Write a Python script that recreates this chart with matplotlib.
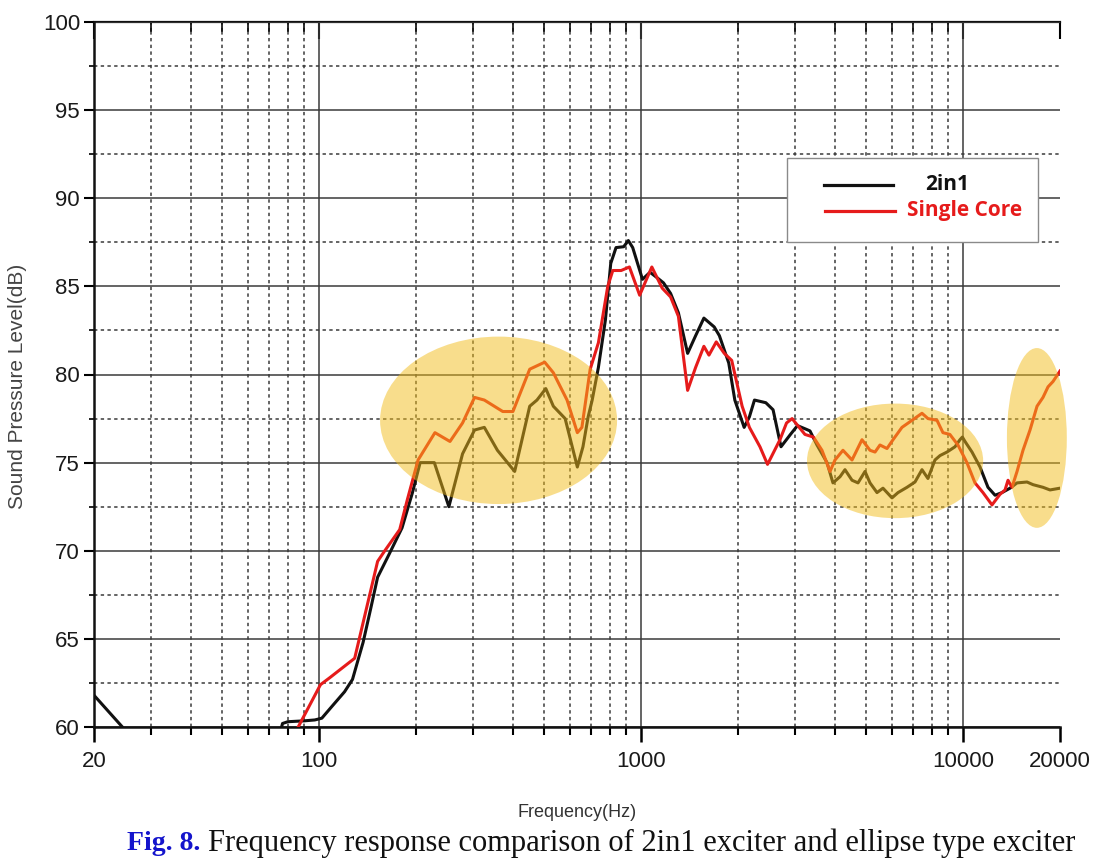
import numpy as np
import matplotlib
matplotlib.use("Agg")
import matplotlib.pyplot as plt
from matplotlib.patches import Ellipse, Rectangle
from matplotlib.lines import Line2D

# ---------------- data ----------------
freq_2in1 = [20, 24.5, 25.5, 75, 77, 80, 90, 97, 102, 110, 120, 127, 137, 145, 152, 165, 181, 195,
             206, 228, 253, 279, 304, 326, 358, 405, 451, 475, 506, 534, 581, 634, 660, 685, 705,
             737, 775, 805, 836, 883, 913, 942, 1010, 1066, 1120, 1174, 1235, 1306, 1395, 1477,
             1567, 1687, 1751, 1872, 1955, 2090, 2170, 2250, 2440, 2570, 2720, 2910, 3060, 3250,
             3346, 3518, 3780, 3944, 4148, 4298, 4520, 4718, 4960, 5140, 5404, 5640, 6016, 6280,
             6697, 7090, 7454, 7780, 8180, 8480, 8914, 9440, 9780, 9950, 10140, 10660, 11290,
             11950, 12570, 13210, 13990, 14710, 15800, 16490, 17710, 18620, 20000]
spl_2in1 = [61.8, 60.0, 59.4, 59.4, 60.2, 60.3, 60.35, 60.4, 60.5, 61.2, 62.0, 62.7, 64.8, 66.8,
            68.5, 69.8, 71.3, 73.3, 75.0, 75.0, 72.5, 75.5, 76.85, 77.0, 75.7, 74.5, 78.2, 78.55,
            79.2, 78.2, 77.5, 74.75, 75.9, 77.6, 78.55, 80.4, 83.1, 86.3, 87.2, 87.25, 87.6, 87.2,
            85.4, 85.8, 85.5, 85.2, 84.6, 83.5, 81.2, 82.2, 83.2, 82.7, 82.2, 80.65, 78.55, 77.0,
            77.6, 78.55, 78.4, 78.0, 75.9, 76.6, 77.1, 76.9, 76.8, 76.0, 75.0, 73.85, 74.2, 74.6,
            74.0, 73.85, 74.5, 73.85, 73.3, 73.55, 73.0, 73.3, 73.6, 73.9, 74.6, 74.1, 75.15,
            75.4, 75.6, 75.9, 76.3, 76.45, 76.2, 75.6, 74.75, 73.6, 73.15, 73.3, 73.55, 73.85,
            73.9, 73.75, 73.6, 73.45, 73.55]

freq_single = [85, 101, 108, 129, 152, 160, 178, 188, 203, 229, 255, 279, 304, 326, 372, 400,
               451, 502, 534, 589, 634, 655, 695, 737, 788, 817, 867, 920, 990, 1080, 1163, 1235,
               1306, 1395, 1477, 1567, 1625, 1712, 1813, 1912, 2060, 2170, 2340, 2470, 2700,
               2830, 2944, 3228, 3430, 3646, 3862, 4002, 4236, 4520, 4854, 5140, 5328, 5520,
               5804, 6060, 6460, 6940, 7454, 7780, 8300, 8660, 9100, 9640, 10280, 10890, 11530,
               12300, 13020, 13500, 13790, 14190, 14710, 15350, 16140, 16970, 17710, 18360,
               19020, 20000]
spl_single = [59.8, 62.4, 62.8, 63.9, 69.4, 70.0, 71.2, 72.9, 75.15, 76.7, 76.2, 77.25, 78.7,
              78.55, 77.9, 77.9, 80.3, 80.7, 80.1, 78.55, 76.7, 77.0, 80.3, 81.8, 85.0, 85.9,
              85.9, 86.1, 84.5, 86.1, 84.9, 84.4, 83.3, 79.1, 80.4, 81.6, 81.1, 81.85, 81.2, 80.8,
              78.2, 77.0, 75.9, 74.9, 76.3, 77.25, 77.5, 76.6, 76.45, 75.7, 74.5, 75.15, 75.7,
              75.15, 76.3, 75.7, 75.6, 76.0, 75.8, 76.3, 77.0, 77.4, 77.8, 77.5, 77.4, 76.7, 76.6,
              76.0, 75.0, 73.85, 73.3, 72.6, 73.2, 73.45, 74.0, 73.6, 74.5, 75.7, 76.85, 78.2,
              78.7, 79.3, 79.6, 80.2]

series_labels = ["2in1", "Single Core"]
xtick_values = [20, 100, 1000, 10000, 20000]
xtick_labels = ["20", "100", "1000", "10000", "20000"]
ytick_values = [60, 65, 70, 75, 80, 85, 90, 95, 100]

# highlighted regions: centre frequency (Hz), centre level (dB), width (decades), height (dB)
highlight_regions = [(361, 77.4, 0.736, 9.5),
                     (6150, 75.1, 0.547, 6.5),
                     (16950, 76.4, 0.186, 10.2)]

# ---------------- figure ----------------
W, H = 1106, 861
fig = plt.figure(figsize=(W / 100, H / 100), dpi=100)
fig.patch.set_facecolor("white")
ax = fig.add_axes([94 / W, 1 - 727 / H, 966 / W, 705 / H])

tick_font = ["Liberation Sans", "DejaVu Sans"]

ax.plot(freq_2in1, spl_2in1, color="#111111", lw=2.2, zorder=3, solid_joinstyle="round")
ax.plot(freq_single, spl_single, color="#e61b1b", lw=2.2, zorder=3, solid_joinstyle="round")

ax.set_xscale("log")
ax.set_xlim(20, 20000)
ax.set_ylim(60, 100)

ax.set_xticks(xtick_values)
ax.set_xticklabels(xtick_labels)
minor_x = [m * d for d in (10, 100, 1000) for m in range(2, 10) if 20 < m * d < 20000]
ax.set_xticks(minor_x, minor=True)
ax.xaxis.set_minor_formatter(matplotlib.ticker.NullFormatter())
ax.set_yticks(ytick_values)
ax.set_yticks([v + 2.5 for v in ytick_values[:-1]], minor=True)

for lab in ax.get_xticklabels() + ax.get_yticklabels():
    lab.set_family(tick_font)
    lab.set_fontsize(16)
    lab.set_color("#1a1a1a")

ax.grid(which="major", color="#3a3a3a", lw=1.1, ls="-", zorder=1)
ax.grid(which="minor", color="#3a3a3a", lw=1.1, ls=(0, (2.2, 2.2)), zorder=1)
ax.set_axisbelow(True)
# no vertical grid line on the plot edges
for tk in ax.xaxis.get_major_ticks():
    if tk.get_loc() in (20, 20000):
        tk.gridline.set_visible(False)

ax.tick_params(axis="y", which="major", direction="out", length=7, width=1.5, pad=3)
ax.tick_params(axis="y", which="minor", direction="out", length=3.5, width=1.2)
ax.tick_params(axis="x", which="major", direction="out", length=11, width=1.8, pad=6)
ax.tick_params(axis="x", which="minor", direction="out", length=6, width=1.5)

for s in ("left", "bottom"):
    ax.spines[s].set_linewidth(1.8)
    ax.spines[s].set_color("#111111")
ax.spines["right"].set_visible(False)
ax.spines["top"].set_visible(False)

sec = ax.secondary_xaxis("top")
sec.set_xticks(xtick_values)
sec.set_xticks(minor_x, minor=True)
sec.tick_params(which="major", direction="in", length=12, width=1.5, labeltop=False)
sec.tick_params(which="minor", direction="in", length=7, width=1.3, labeltop=False)
sec.xaxis.set_major_formatter(matplotlib.ticker.NullFormatter())
sec.xaxis.set_minor_formatter(matplotlib.ticker.NullFormatter())
sec.spines["top"].set_linewidth(1.6)
sec.spines["top"].set_color("#111111")

# highlight ellipses (drawn over the curves, semi-transparent)
log_lo, log_span = np.log10(20), np.log10(20000) - np.log10(20)
for fc, dbc, wdec, hdb in highlight_regions:
    cx = (np.log10(fc) - log_lo) / log_span
    cy = (dbc - 60) / 40
    e = Ellipse((cx, cy), wdec / log_span, hdb / 40, transform=ax.transAxes,
                facecolor="#F2BC1A", alpha=0.5, edgecolor="none", zorder=4, clip_on=False)
    ax.add_patch(e)

# legend (manual)
leg_font = ["Open Sans", "Roboto", "DejaVu Sans"]
ax.add_patch(Rectangle((0.7174, 0.688), 0.2596, 0.119, transform=ax.transAxes,
                       facecolor="white", edgecolor="#8a8a8a", lw=1.0, zorder=6))
ax.add_line(Line2D([0.7557, 0.827], [0.769, 0.769], transform=ax.transAxes,
                   color="#111111", lw=2.3, zorder=7))
ax.add_line(Line2D([0.7567, 0.829], [0.732, 0.732], transform=ax.transAxes,
                   color="#e61b1b", lw=2.3, zorder=7))
ax.text(0.860, 0.769, series_labels[0], transform=ax.transAxes, ha="left", va="center",
        fontsize=15, fontweight="bold", family=leg_font, color="#111111", zorder=8)
ax.text(0.8416, 0.732, series_labels[1], transform=ax.transAxes, ha="left", va="center",
        fontsize=15, fontweight="bold", family=leg_font, color="#e61b1b", zorder=8)

# axis labels
ax.set_xlabel("Frequency(Hz)", fontsize=13, color="#333333",
              family=["Liberation Sans", "DejaVu Sans"], va="center")
ax.xaxis.set_label_coords(0.5, -0.1206)
ax.set_ylabel("Sound Pressure Level(dB)", fontsize=15, color="#444444",
              family=["Liberation Sans", "DejaVu Sans"], va="center")
ax.yaxis.set_label_coords(-0.0787, 0.4837)

# caption
renderer = fig.canvas.get_renderer()
t1 = fig.text(127 / W, 1 - 843 / H, "Fig. 8.", fontsize=20, fontweight="bold",
              color="#1414cc", family=["Liberation Serif", "DejaVu Serif"],
              ha="left", va="center")
bb = t1.get_window_extent(renderer=renderer)
fig.text((bb.x1 + 8) / W, 1 - 843 / H,
         "Frequency response comparison of 2in1 exciter and ellipse type exciter",
         fontsize=22, color="#111111", family=["Liberation Serif", "DejaVu Serif"],
         ha="left", va="center")

fig.savefig("out.png", dpi=100, facecolor="white")
